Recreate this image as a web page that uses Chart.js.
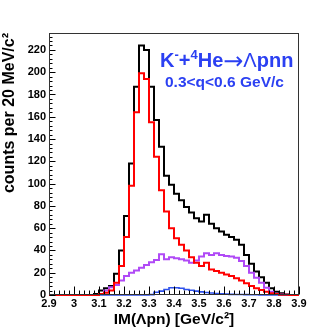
<!DOCTYPE html>
<html>
<head>
<meta charset="utf-8">
<script src="https://cdn.jsdelivr.net/npm/chart.js@4.4.0/dist/chart.umd.min.js"></script>
<style>
  html, body { margin: 0; padding: 0; background: #fff; }
</style>
</head>
<body>
<canvas id="chart" width="332" height="332"></canvas>
<script>
// IM(Λpn) for K- + 4He -> Λpnn, 0.3<q<0.6 GeV/c
// 50 bins of 20 MeV between 2.9 and 3.9 GeV/c2
const binStart = 2.9;
const binWidth = 0.02;

const totalCounts = [
  0, 0, 0, 0, 0, 0, 0, 0, 0, 1,
  4, 6, 8, 19, 40, 71, 118, 187, 224, 220,
  187, 157, 133, 107, 99, 91, 85, 79, 74, 69,
  66, 72, 64, 60, 57, 54, 52, 49.5, 45, 36,
  28, 21, 16, 11, 6, 3, 1.5, 0.5, 0, 0
];
const redCounts = [
  0, 0, 0, 0, 0, 0, 0, 0, 0, 0,
  1, 2, 4, 11, 26, 52, 98, 164, 199, 194,
  155, 124, 94, 75, 60, 51, 45, 40, 34, 29,
  26, 29, 23, 21.5, 20, 18.5, 17, 15, 13, 10.5,
  8, 6, 4.5, 3, 1.5, 0.8, 0.3, 0.2, 0, 0
];
const violetCounts = [
  0, 0, 0, 0, 0, 0, 0, 0, 0, 0,
  1, 4, 7, 9, 13, 17, 20, 22, 24.5, 27,
  29.5, 31.5, 36.5, 32, 34, 33, 32, 31, 29, 31,
  34.5, 37.5, 36, 37.5, 36, 35, 34.5, 33.5, 30.5, 26,
  20, 15.5, 11, 6.5, 3, 1.2, 0.5, 0.2, 0, 0
];
const blueCounts = [
  0, 0, 0, 0, 0, 0, 0, 0, 0, 0,
  0, 0, 0, 0, 0, 0, 0, 0, 0, 0,
  0.3, 2.5, 3.5, 5, 6.5, 6.5, 6, 5, 4.2, 3.5,
  2.8, 2.2, 1.8, 1.4, 1.1, 0.8, 0.6, 0.5, 0.4, 0.3,
  0.2, 0.2, 0.1, 0.1, 0, 0, 0, 0, 0, 0
];

const xTickValues = [2.9, 3.0, 3.1, 3.2, 3.3, 3.4, 3.5, 3.6, 3.7, 3.8, 3.9];
const xTickLabels = ['2.9', '3', '3.1', '3.2', '3.3', '3.4', '3.5', '3.6', '3.7', '3.8', '3.9'];
const yTickValues = [0, 20, 40, 60, 80, 100, 120, 140, 160, 180, 200, 220];
const yMax = 235.2;

const labelBlue = '#2b40f2';
const fontFamily = '"Liberation Sans", Arial, sans-serif';

// bin low edges + closing edge, drawn as steps
function toSteps(counts) {
  const pts = counts.map((c, i) => ({ x: binStart + i * binWidth, y: c }));
  pts.push({ x: binStart + counts.length * binWidth, y: counts[counts.length - 1] });
  return pts;
}

function histo(counts, color, width) {
  return {
    data: toSteps(counts),
    borderColor: color,
    borderWidth: width,
    stepped: true,
    pointRadius: 0,
    fill: false,
    clip: 3
  };
}

// frame and inward ticks, ROOT style
const frameTicks = {
  id: 'frameTicks',
  afterDatasetsDraw(chart) {
    const { ctx, chartArea: a, scales: { x, y } } = chart;
    const L = Math.round(a.left) + 0.5, R = Math.round(a.right) - 0.5;
    const T = Math.round(a.top) + 0.5, B = Math.round(a.bottom) - 0.5;
    ctx.save();
    ctx.strokeStyle = '#000';
    ctx.lineWidth = 1;
    ctx.beginPath();
    for (let i = 0; i <= 50; i++) {
      const px = Math.round(x.getPixelForValue(binStart + i * binWidth)) + 0.5;
      const len = i % 5 === 0 ? 8 : 4;
      ctx.moveTo(px, B);
      ctx.lineTo(px, B - len);
    }
    for (let v = 0; v <= yMax; v += 4) {
      const py = Math.round(y.getPixelForValue(v)) + 0.5;
      const len = v % 20 === 0 ? 6 : 3;
      ctx.moveTo(L, py);
      ctx.lineTo(L + len, py);
    }
    ctx.stroke();
    ctx.strokeStyle = '#333';
    ctx.strokeRect(L, T, R - L, B - T);
    ctx.restore();
  }
};

const reactionLabel = {
  id: 'reactionLabel',
  afterDraw(chart) {
    const ctx = chart.ctx;
    ctx.save();
    ctx.fillStyle = labelBlue;
    ctx.textBaseline = 'alphabetic';
    const parts = [
      ['K', 'bold 20px ' + fontFamily, 0],
      ['-', 'bold 13px ' + fontFamily, -8],
      ['+', 'bold 20px ' + fontFamily, 0],
      ['4', 'bold 13px ' + fontFamily, -8],
      ['He', 'bold 20px ' + fontFamily, 0],
      ['\u2192', '24px "DejaVu Sans"', 2],
      ['\u039B', '20px ' + fontFamily, 0],
      ['pnn', 'bold 20px ' + fontFamily, 0]
    ];
    let px = 160;
    parts.forEach(([t, f, dy]) => {
      ctx.font = f;
      ctx.fillText(t, px, 67 + dy);
      px += ctx.measureText(t).width;
    });
    ctx.font = 'bold 15.5px ' + fontFamily;
    ctx.fillText('0.3<q<0.6 GeV/c', 165, 87);
    ctx.restore();
  }
};

const tickFont = { family: fontFamily, size: 11, weight: 'bold' };

new Chart(document.getElementById('chart').getContext('2d'), {
  type: 'line',
  data: {
    datasets: [
      histo(redCounts, '#ff0000', 2),
      histo(blueCounts, '#2f52ec', 1.6),
      histo(violetCounts, '#b04af6', 2),
      histo(totalCounts, '#000000', 2)
    ]
  },
  options: {
    responsive: false,
    animation: false,
    events: [],
    layout: { padding: { left: 0, top: 33, right: 33, bottom: 0 } },
    plugins: { legend: { display: false }, tooltip: { enabled: false } },
    scales: {
      x: {
        type: 'linear',
        min: 2.9,
        max: 3.9,
        grid: { display: false, drawTicks: false },
        border: { display: false },
        afterBuildTicks: s => { s.ticks = xTickValues.map(v => ({ value: v })); },
        afterFit: s => { s.height = 37; },
        ticks: {
          padding: 2,
          autoSkip: false,
          maxRotation: 0,
          color: '#000',
          font: tickFont,
          callback: (v, i) => xTickLabels[i]
        },
        title: {
          display: true,
          text: 'IM(\u039Bpn) [GeV/c\u00B2]',
          color: '#000',
          font: { family: fontFamily, size: 15.5, weight: 'bold' },
          padding: { top: 0, bottom: 3 }
        }
      },
      y: {
        min: 0,
        max: yMax,
        grid: { display: false, drawTicks: false },
        border: { display: false },
        afterBuildTicks: s => { s.ticks = yTickValues.map(v => ({ value: v })); },
        afterFit: s => { s.width = 49; },
        ticks: { padding: 3, color: '#000', font: tickFont },
        title: {
          display: true,
          text: 'counts per 20 MeV/c\u00B2',
          align: 'end',
          color: '#000',
          font: { family: fontFamily, size: 16, weight: 'bold' },
          padding: { top: 0, bottom: 0 }
        }
      }
    }
  },
  plugins: [frameTicks, reactionLabel]
});
</script>
</body>
</html>
